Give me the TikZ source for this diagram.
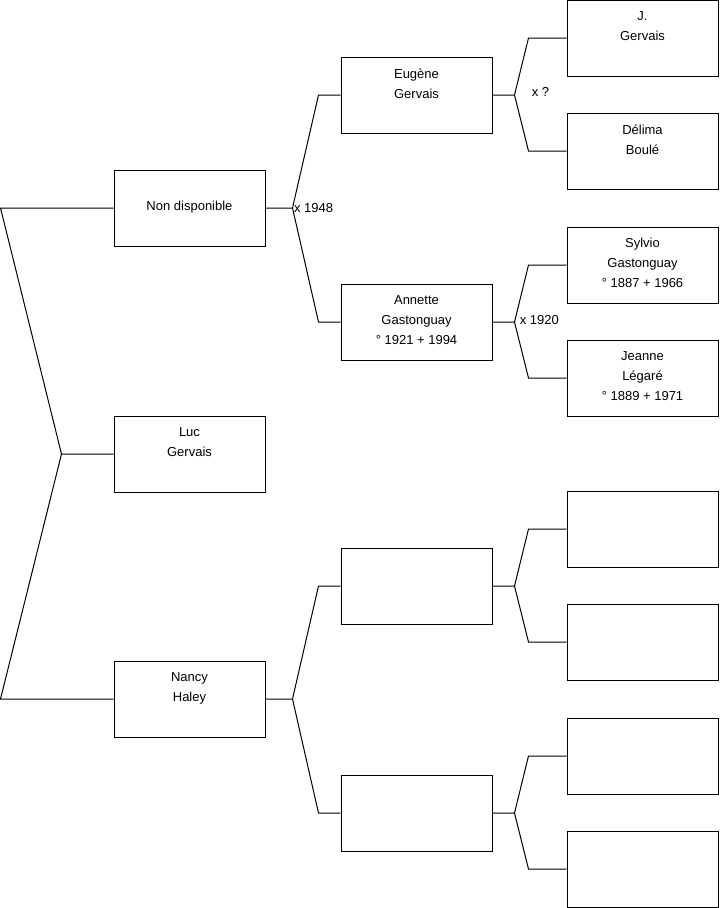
\documentclass[tikz,border=0pt]{standalone}
\usepackage{fontspec}
\setmainfont{Liberation Sans}
\usetikzlibrary{calc,positioning}

\tikzset{
	personne/.style={draw, line width=0.75pt, minimum width=113.25pt, minimum height=57pt, inner sep=0pt},
	nom/.style={anchor=north, align=center, inner sep=0pt, yshift=-8.8pt, font=\fontsize{9.75}{15}\selectfont},
	mariage/.style={anchor=west, inner sep=0pt, font=\fontsize{9.75}{15}\selectfont},
	lien/.style={line width=0.75pt},
}

\begin{document}
\begin{tikzpicture}[x=0.75pt,y=-0.75pt]
		\useasboundingbox (0,0) rectangle (719,908);
		% Generation 1
		\node[personne, label={[nom,yshift=-15pt]north:Non disponible}] (pere) at (189.5,208) {};
		\node[personne, label={[nom]north:Luc\\Gervais}] (luc) at (189.5,454) {};
		\node[personne, label={[nom]north:Nancy\\Haley}] (mere) at (189.5,699) {};
		% Generation 2
		\node[personne, label={[nom]north:Eugène\\Gervais}] (eugene) at (416.5,95) {};
		\node[personne, label={[nom]north:Annette\\Gastonguay\\° 1921 + 1994}] (annette) at (416.5,322) {};
		\node[personne] (vide1) at (416.5,586) {};
		\node[personne] (vide2) at (416.5,813) {};
		% Generation 3
		\node[personne, label={[nom]north:J.\\Gervais}] (jgervais) at (642.5,38) {};
		\node[personne, label={[nom]north:Délima\\Boulé}] (delima) at (642.5,151) {};
		\node[personne, label={[nom]north:Sylvio\\Gastonguay\\° 1887 + 1966}] (sylvio) at (642.5,265) {};
		\node[personne, label={[nom]north:Jeanne\\Légaré\\° 1889 + 1971}] (jeanne) at (642.5,378) {};
		\node[personne] (vide3) at (642.5,529) {};
		\node[personne] (vide4) at (642.5,642) {};
		\node[personne] (vide5) at (642.5,756) {};
		\node[personne] (vide6) at (642.5,869) {};
		% Luc -> parents
		\draw[lien] (luc.west) -- ++(-52,0) coordinate (m0) -- ([xshift=-84.75pt]pere.west) -- (pere.west);
		\draw[lien] (m0) -- ([xshift=-84.75pt]mere.west) -- (mere.west);
		% Parents -> grands-parents
		\draw[lien] (pere.east) -- ++(27,0) coordinate (m1) -- ([xshift=-16.5pt]eugene.west) -- (eugene.west);
		\draw[lien] (m1) -- ([xshift=-16.5pt]annette.west) -- (annette.west);
		\node[mariage, xshift=1pt] (x1948) at (m1) {x 1948};
		\draw[lien] (mere.east) -- ++(27,0) coordinate (m4) -- ([xshift=-16.5pt]vide1.west) -- (vide1.west);
		\draw[lien] (m4) -- ([xshift=-16.5pt]vide2.west) -- (vide2.west);
		% Grands-parents -> arriere-grands-parents
		\draw[lien] (eugene.east) -- ++(22,0) coordinate (m2) -- ([xshift=-28.5pt]jgervais.west) -- (jgervais.west);
		\draw[lien] (m2) -- ([xshift=-28.5pt]delima.west) -- (delima.west);
		\node[mariage, xshift=12.75pt, yshift=2.25pt] (xinconnu) at (m2) {x ?};
		\draw[lien] (annette.east) -- ++(22,0) coordinate (m3) -- ([xshift=-28.5pt]sylvio.west) -- (sylvio.west);
		\draw[lien] (m3) -- ([xshift=-28.5pt]jeanne.west) -- (jeanne.west);
		\node[mariage, xshift=3.75pt, yshift=1.5pt] (x1920) at (m3) {x 1920};
		\draw[lien] (vide1.east) -- ++(22,0) coordinate (m5) -- ([xshift=-28.5pt]vide3.west) -- (vide3.west);
		\draw[lien] (m5) -- ([xshift=-28.5pt]vide4.west) -- (vide4.west);
		\draw[lien] (vide2.east) -- ++(22,0) coordinate (m6) -- ([xshift=-28.5pt]vide5.west) -- (vide5.west);
		\draw[lien] (m6) -- ([xshift=-28.5pt]vide6.west) -- (vide6.west);
\end{tikzpicture}
\end{document}
